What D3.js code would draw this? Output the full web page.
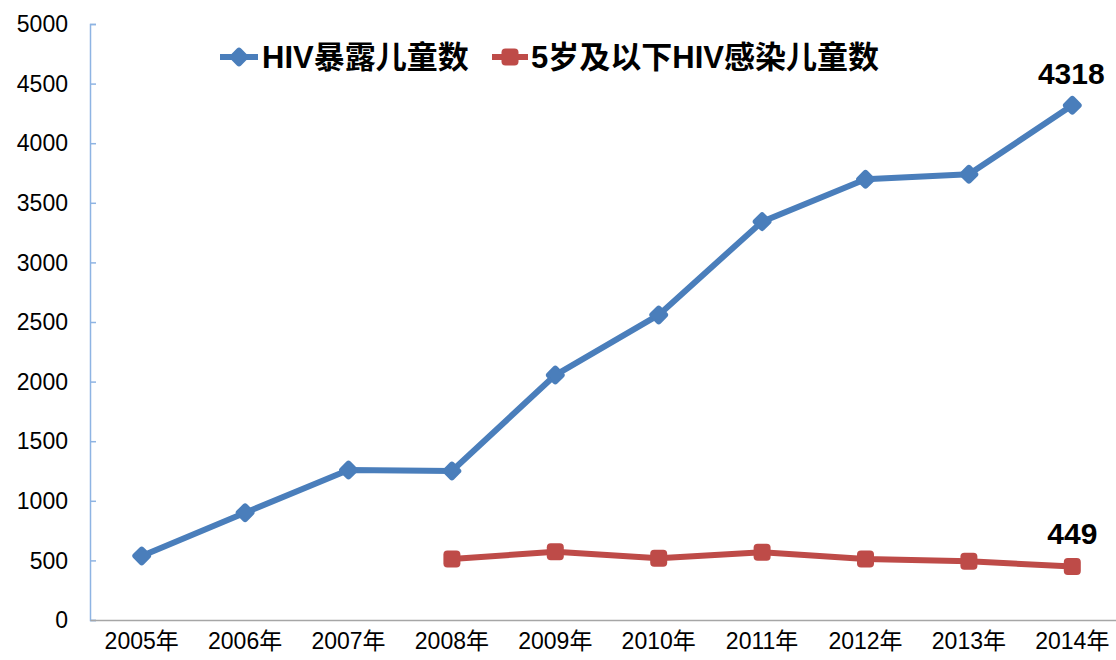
<!DOCTYPE html>
<html>
<head>
<meta charset="utf-8">
<script src="https://cdn.jsdelivr.net/npm/d3@7"></script>
<style>
  body { margin: 0; background: #fff; }
  svg { display: block; font-family: "Liberation Sans", Arial, "Noto Sans CJK SC", sans-serif; }
</style>
</head>
<body>
<div id="chart"></div>
<script>
// Data
const years = ["2005年", "2006年", "2007年", "2008年", "2009年", "2010年", "2011年", "2012年", "2013年", "2014年"];
const exposed = [537, 900, 1258, 1250, 2055, 2559, 3342, 3697, 3739, 4318];
const infected = [null, null, null, 512, 573, 518, 568, 512, 492, 449];
const seriesNames = ["HIV暴露儿童数", "5岁及以下HIV感染儿童数"];
const yTicks = [0, 500, 1000, 1500, 2000, 2500, 3000, 3500, 4000, 4500, 5000];

const width = 1116, height = 660;
const blue = "#4A7EBB", red = "#BE4B48";

const svg = d3.select("#chart")
    .append("svg")
    .attr("width", width)
    .attr("height", height);

// Scales
const x = d3.scaleBand().domain(years).range([90, 1124]);
const y = d3.scaleLinear().domain([0, 5000]).range([620, 24]);
const cx = d => x(d) + x.bandwidth() / 2;

// y axis: light blue line, ticks pointing inward
const yAxis = svg.append("g")
    .attr("transform", "translate(90,0)")
    .call(d3.axisRight(y).tickValues(yTicks).tickSize(6).tickFormat(""));
yAxis.select(".domain").attr("stroke", "#8EB4E3").attr("stroke-width", 1.5);
yAxis.selectAll(".tick line").attr("stroke", "#8EB4E3").attr("stroke-width", 1.5);

svg.append("g")
    .selectAll("text")
    .data(yTicks)
    .enter().append("text")
    .attr("x", 68)
    .attr("y", d => y(d))
    .attr("dy", "0.36em")
    .attr("text-anchor", "end")
    .style("font-size", "23px")
    .attr("fill", "#000")
    .text(d => d);

// x axis: gray line, no ticks
const xAxis = svg.append("g")
    .attr("transform", "translate(0,620)")
    .call(d3.axisBottom(x).tickSize(0).tickPadding(13));
xAxis.select(".domain").attr("stroke", "#A6A6A6").attr("stroke-width", 1.5);
xAxis.selectAll("text")
    .style("font-size", "23px")
    .style("font-family", "'Liberation Sans', Arial, 'Noto Sans CJK SC', sans-serif")
    .attr("fill", "#000")
    .attr("dy", "0.71em");

// Lines
const line = d3.line()
    .defined(d => d[1] != null)
    .x(d => cx(d[0]))
    .y(d => y(d[1]));

const blueData = years.map((yr, i) => [yr, exposed[i]]);
const redData = years.map((yr, i) => [yr, infected[i]]);

svg.append("path")
    .datum(blueData)
    .attr("fill", "none")
    .attr("stroke", blue)
    .attr("stroke-width", 6)
    .attr("stroke-linejoin", "round")
    .attr("d", line);

svg.append("path")
    .datum(redData)
    .attr("fill", "none")
    .attr("stroke", red)
    .attr("stroke-width", 6)
    .attr("stroke-linejoin", "round")
    .attr("d", line);

// Markers
function diamond(g, px, py) {
    g.append("rect")
        .attr("x", -6.5).attr("y", -6.5)
        .attr("width", 13).attr("height", 13)
        .attr("rx", 2)
        .attr("fill", blue)
        .attr("stroke", blue)
        .attr("stroke-width", 2)
        .attr("stroke-linejoin", "round")
        .attr("transform", "translate(" + px + "," + py + ") rotate(45)");
}
function square(g, px, py) {
    g.append("rect")
        .attr("x", px - 8.5).attr("y", py - 8.5)
        .attr("width", 17).attr("height", 17)
        .attr("rx", 4)
        .attr("fill", red);
}

const markers = svg.append("g");
blueData.forEach(d => diamond(markers, cx(d[0]), y(d[1])));
redData.filter(d => d[1] != null).forEach(d => square(markers, cx(d[0]), y(d[1])));

// End value labels
const last = years.length - 1;
svg.append("text")
    .attr("x", cx(years[last]) - 1)
    .attr("y", y(exposed[last]) - 21)
    .attr("text-anchor", "middle")
    .style("font-size", "30px")
    .style("font-weight", "bold")
    .text(exposed[last]);

svg.append("text")
    .attr("x", cx(years[last]) + 0)
    .attr("y", y(infected[last]) - 22)
    .attr("text-anchor", "middle")
    .style("font-size", "30px")
    .style("font-weight", "bold")
    .text(infected[last]);

// Legend
const legend = svg.append("g");
legend.append("line")
    .attr("x1", 220).attr("x2", 258)
    .attr("y1", 57).attr("y2", 57)
    .attr("stroke", blue).attr("stroke-width", 6);
diamond(legend, 239, 57);
legend.append("text")
    .attr("x", 262).attr("y", 68)
    .style("font-size", "31px")
    .style("font-weight", "bold")
    .text(seriesNames[0]);

legend.append("line")
    .attr("x1", 492).attr("x2", 528)
    .attr("y1", 57).attr("y2", 57)
    .attr("stroke", red).attr("stroke-width", 6);
square(legend, 510, 57);
legend.append("text")
    .attr("x", 531).attr("y", 68)
    .style("font-size", "31px")
    .style("font-weight", "bold")
    .text(seriesNames[1]);
</script>
</body>
</html>
